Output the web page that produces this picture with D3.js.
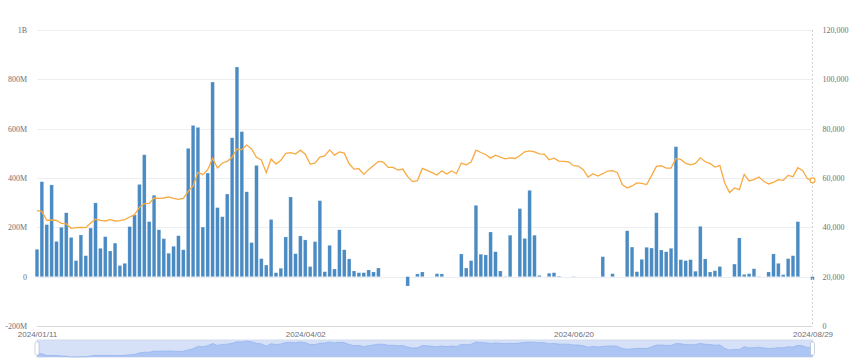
<!DOCTYPE html>
<html>
<head>
<meta charset="utf-8">
<script src="https://cdn.jsdelivr.net/npm/d3@7/dist/d3.min.js"></script>
<style>
  body { margin: 0; background: #fff; }
  svg { display: block; }
  .yl text { font-family: "Liberation Serif", serif; font-size: 8px; fill: #6e7079; }
  .xl text { font-family: "Liberation Sans", sans-serif; font-size: 8px; fill: #6e7079; }
</style>
</head>
<body>
<div id="chart"></div>
<script>
// Trading days 2024/01/11 .. 2024/08/29 (weekdays minus market holidays)
var first_day = "2024-01-11", last_day = "2024-08-29";
var holidays = ["2024-01-15", "2024-02-19", "2024-03-29", "2024-05-27", "2024-06-19", "2024-07-04"];

// Bars (left axis) - volume
var volume = [
  111e6, 385e6, 211e6, 372e6, 143e6, 200e6, 259e6, 159e6, 65e6, 169e6,
  85e6, 197e6, 299e6, 115e6, 162e6, 104e6, 136e6, 45e6, 54e6, 203e6,
  250e6, 374e6, 494e6, 223e6, 330e6, 190e6, 154e6, 95e6, 123e6, 166e6,
  109e6, 520e6, 613e6, 605e6, 201e6, 420e6, 789e6, 280e6, 243e6, 335e6,
  563e6, 850e6, 588e6, 344e6, 138e6, 451e6, 73e6, 47e6, 232e6, 16e6,
  34e6, 161e6, 323e6, 93e6, 165e6, 149e6, 41e6, 142e6, 308e6, 20e6,
  127e6, 31e6, 190e6, 109e6, 72e6, 23e6, 16e6, 16e6, 27e6, 19e6,
  35e6, 0, 0, 0, 0, 0, -38e6, 0, 11e6, 19e6,
  0, 0, 12e6, 11e6, 0, 0, 0, 92e6, 35e6, 65e6,
  289e6, 91e6, 88e6, 181e6, 101e6, 23e6, 1e6, 168e6, 0, 276e6,
  155e6, 350e6, 168e6, 5e6, 0, 14e6, 16e6, 2e6, 0, 0,
  1e6, 0, 0, 0, 0, 0, 81e6, 0, 12e6, 0,
  0, 186e6, 120e6, 20e6, 70e6, 119e6, 116e6, 259e6, 108e6, 101e6,
  115e6, 527e6, 69e6, 65e6, 69e6, 22e6, 204e6, 72e6, 19e6, 24e6,
  41e6, 0, 0, 51e6, 157e6, 9e6, 12e6, 32e6, 1e6, 0,
  19e6, 92e6, 54e6, 8e6, 73e6, 85e6, 223e6, 0, 0, -13e6
];

// Line (right axis) - price
var price = [
  46760, 46490, 42840, 42980, 42840, 41630, 41360, 39600, 39870, 40000,
  39870, 41760, 43250, 42840, 42570, 43110, 42570, 42700, 43110, 44190,
  45140, 48110, 49600, 49730, 51890, 51760, 51890, 52300, 51760, 51350,
  51760, 54600, 56760, 62300, 61350, 63380, 67970, 64050, 66080, 66760,
  68380, 71750, 71480, 73370, 71750, 68380, 67300, 62160, 67700, 65670,
  67160, 70000, 70300, 69700, 71270, 69660, 65640, 66040, 68450, 68990,
  71400, 69260, 70600, 70070, 65770, 63620, 63760, 61480, 63490, 65100,
  66710, 66440, 64290, 64290, 63220, 63620, 60540, 58520, 58930, 63890,
  63090, 62150, 61210, 62950, 61610, 62820, 61740, 66040, 65370, 66440,
  71270, 70330, 69530, 68050, 69260, 68450, 67780, 68190, 67920, 69120,
  70600, 71000, 70600, 69800, 69660, 67380, 68050, 66840, 66710, 66580,
  64970, 64830, 63360, 60400, 61740, 60810, 61740, 62820, 62950, 62150,
  57320, 55970, 56780, 57990, 57850, 57320, 60940, 64700, 64970, 64030,
  64030, 67920, 67520, 65900, 65370, 65900, 68190, 66580, 65900, 64430,
  65100, 57990, 54090, 55970, 55300, 61480, 58790, 59330, 60400, 58660,
  57580, 58260, 59330, 59060, 61070, 60540, 64160, 62950, 59600, 59060
];

var left_ticks = [-200e6, 0, 200e6, 400e6, 600e6, 800e6, 1e9];
var right_ticks = [0, 20000, 40000, 60000, 80000, 100000, 120000];
var label_index = [0, 55, 110, 159];

// Build category dates
var dates = [];
var fmt_key = d3.timeFormat("%Y-%m-%d"), fmt_lab = d3.timeFormat("%Y/%m/%d");
for (var d = d3.timeParse("%Y-%m-%d")(first_day); fmt_key(d) <= last_day; d = d3.timeDay.offset(d, 1)) {
  var wd = d.getDay();
  if (wd == 0 || wd == 6) continue;
  if (holidays.indexOf(fmt_key(d)) >= 0) continue;
  dates.push(fmt_lab(d));
}

var svg_width = 850, svg_height = 362;
var g_left = 37, g_right = 812.5, g_top = 30, g_bottom = 326;

var svg = d3.select("#chart").append("svg").attr("width", svg_width).attr("height", svg_height);

var x = d3.scalePoint().domain(dates).range([g_left, g_right]);
var yl = d3.scaleLinear().domain([-200e6, 1e9]).range([g_bottom, g_top]);
var yr = d3.scaleLinear().domain([0, 120000]).range([g_bottom, g_top]);

function fmt_left(v) {
  if (v == 0) return "0";
  if (Math.abs(v) >= 1e9) return (v / 1e9) + "B";
  return (v / 1e6) + "M";
}

// Grid lines
svg.append("g").selectAll("line").data(left_ticks).enter().append("line")
  .attr("x1", g_left).attr("x2", g_right)
  .attr("y1", function(v) { return Math.round(yl(v)) + 0.5; })
  .attr("y2", function(v) { return Math.round(yl(v)) + 0.5; })
  .style("stroke", function(v) { return v == -200e6 ? "#d6d8de" : "#eceef1"; })
  .style("stroke-width", 1);

// Axes
var gl = svg.append("g").attr("class", "yl").attr("transform", "translate(" + (g_left - 7) + ",0)")
  .call(d3.axisLeft(yl).tickValues(left_ticks).tickFormat(fmt_left).tickSize(0));
gl.select(".domain").remove();
var gr = svg.append("g").attr("class", "yl").attr("transform", "translate(" + (g_right + 7) + ",0)")
  .call(d3.axisRight(yr).tickValues(right_ticks).tickFormat(d3.format(",")).tickSize(0));
gr.select(".domain").remove();
var gx = svg.append("g").attr("class", "xl").attr("transform", "translate(0," + (g_bottom + 2) + ")")
  .call(d3.axisBottom(x).tickValues(label_index.map(function(i) { return dates[i]; })).tickSize(0).tickPadding(3));
gx.select(".domain").remove();

// Bars
var bw = 3.6;
svg.append("g").selectAll("rect").data(volume).enter().append("rect")
  .attr("x", function(v, i) { return x(dates[i]) - bw / 2; })
  .attr("y", function(v) { return yl(Math.max(0, v)); })
  .attr("width", bw)
  .attr("height", function(v) { return Math.abs(yl(v) - yl(0)); })
  .style("fill", "#4b8bc3")
  .style("stroke", "rgba(255,255,255,0.35)")
  .style("stroke-width", 0.5);

// Axis pointer at last category
svg.append("line")
  .attr("x1", g_right).attr("x2", g_right).attr("y1", g_top).attr("y2", g_bottom)
  .style("stroke", "#cfd2d8").style("stroke-dasharray", "2,2");

// Price line
svg.append("path")
  .attr("d", d3.line()
    .x(function(v, i) { return x(dates[i]); })
    .y(function(v) { return yr(v); })
    (price))
  .style("fill", "none")
  .style("stroke", "#f8aa42")
  .style("stroke-width", 1.3);

svg.append("circle")
  .attr("cx", x(dates[dates.length - 1]))
  .attr("cy", yr(price[price.length - 1]))
  .attr("r", 2.5)
  .style("fill", "#fff").style("stroke", "#f8aa42").style("stroke-width", 1.2);

// Data zoom slider
var sz_top = 340, sz_bottom = 357;
var ys = d3.scaleLinear().domain(d3.extent(price)).range([sz_bottom, sz_top + 1]);
var slider = svg.append("g");
slider.append("rect")
  .attr("x", g_left).attr("y", sz_top).attr("width", g_right - g_left).attr("height", sz_bottom - sz_top)
  .style("fill", "#d6e1f7").style("stroke", "#d2dbee");
slider.append("path")
  .attr("d", d3.area()
    .x(function(v, i) { return x(dates[i]); })
    .y0(sz_bottom)
    .y1(function(v) { return ys(v); })
    (price))
  .style("fill", "#adc5f3");
slider.append("path")
  .attr("d", d3.line()
    .x(function(v, i) { return x(dates[i]); })
    .y(function(v) { return ys(v); })
    (price))
  .style("fill", "none").style("stroke", "#8fb0ef").style("stroke-width", 0.7);
slider.selectAll("rect.handle").data([g_left, g_right]).enter().append("rect")
  .attr("class", "handle")
  .attr("x", function(v) { return v - 2; }).attr("y", sz_top + 2)
  .attr("width", 4).attr("height", sz_bottom - sz_top - 4)
  .attr("rx", 1.5)
  .style("fill", "#fff").style("stroke", "#a7b7cc").style("stroke-width", 0.6);
</script>
</body>
</html>
